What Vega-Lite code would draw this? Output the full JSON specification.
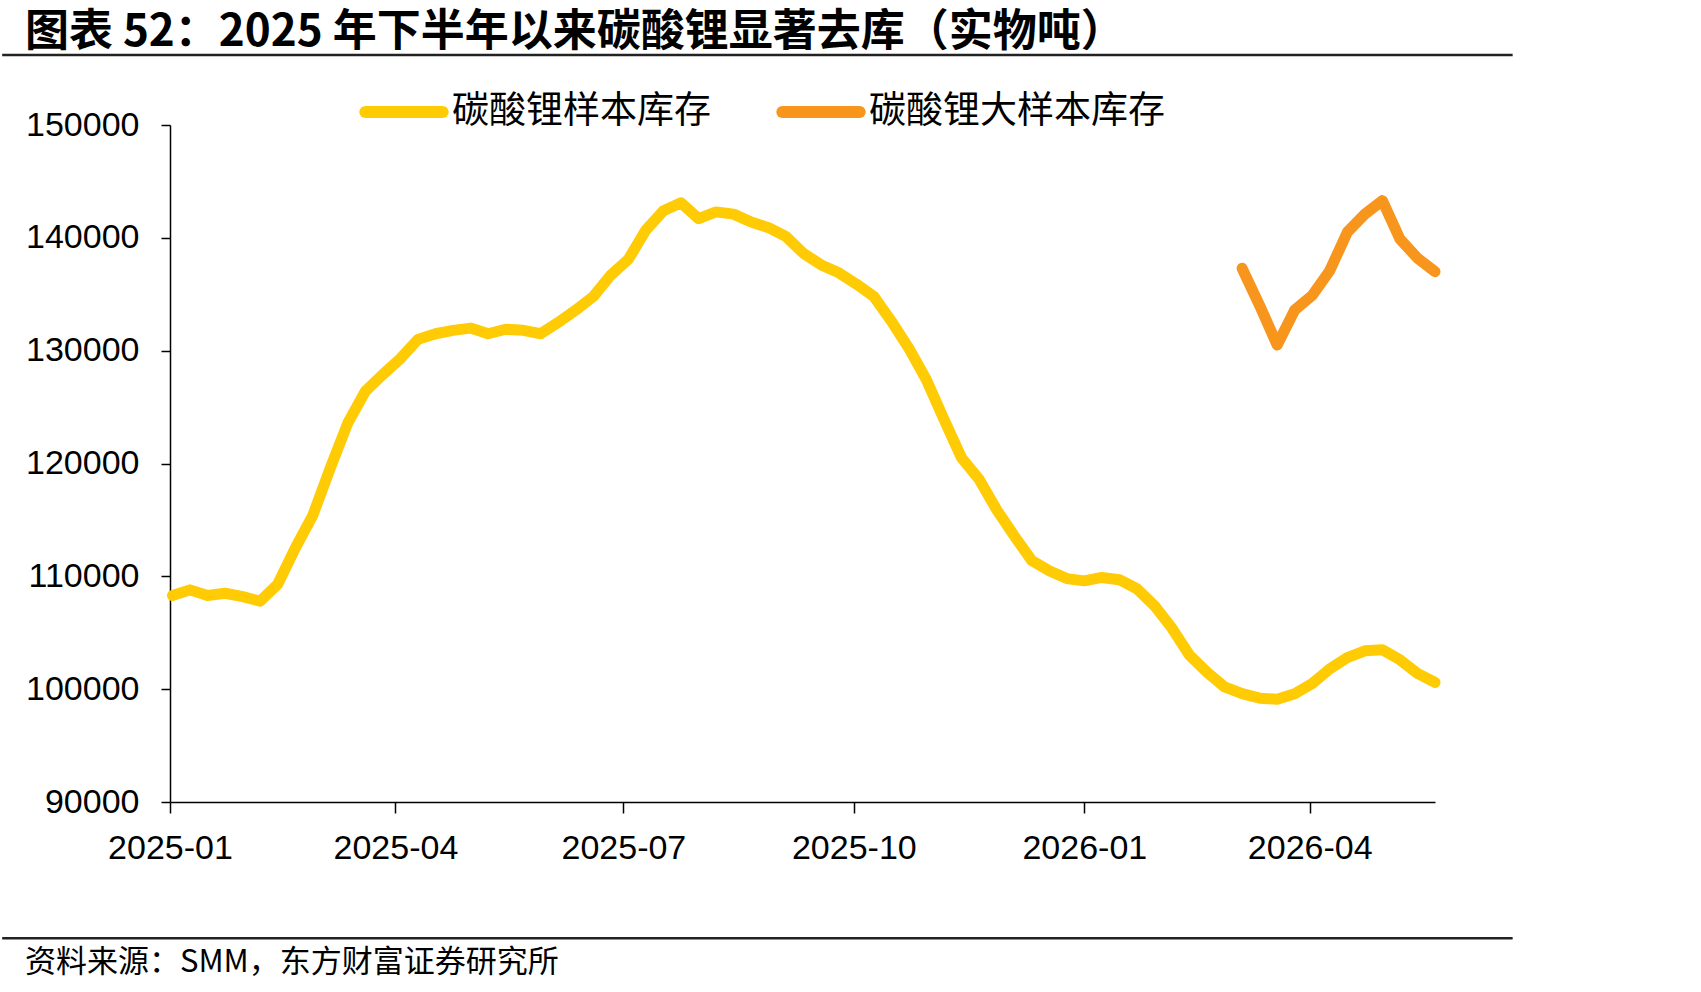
{
  "$schema": "https://vega.github.io/schema/vega-lite/v6.json",
  "padding": {"left": 0, "top": 10, "right": 0, "bottom": 10},
  "autosize": {"type": "pad"},
  "background": "white",
  "config": {"view": {"stroke": null}, "concat": {"spacing": 0}},
  "title": {
    "text": "图表 52：2025 年下半年以来碳酸锂显著去库（实物吨）",
    "font": "Noto Sans CJK SC",
    "fontSize": 44,
    "fontWeight": "bold",
    "color": "black",
    "anchor": "start",
    "frame": "bounds",
    "dx": 24,
    "offset": -1
  },
  "datasets": {
    "inv": [
      {"date": "2025-01-02", "series": "碳酸锂样本库存", "value": 108300},
      {"date": "2025-01-09", "series": "碳酸锂样本库存", "value": 108800},
      {"date": "2025-01-16", "series": "碳酸锂样本库存", "value": 108300},
      {"date": "2025-01-23", "series": "碳酸锂样本库存", "value": 108500},
      {"date": "2025-01-30", "series": "碳酸锂样本库存", "value": 108200},
      {"date": "2025-02-06", "series": "碳酸锂样本库存", "value": 107800},
      {"date": "2025-02-13", "series": "碳酸锂样本库存", "value": 109300},
      {"date": "2025-02-20", "series": "碳酸锂样本库存", "value": 112500},
      {"date": "2025-02-27", "series": "碳酸锂样本库存", "value": 115400},
      {"date": "2025-03-06", "series": "碳酸锂样本库存", "value": 119600},
      {"date": "2025-03-13", "series": "碳酸锂样本库存", "value": 123600},
      {"date": "2025-03-20", "series": "碳酸锂样本库存", "value": 126400},
      {"date": "2025-03-27", "series": "碳酸锂样本库存", "value": 127900},
      {"date": "2025-04-03", "series": "碳酸锂样本库存", "value": 129300},
      {"date": "2025-04-10", "series": "碳酸锂样本库存", "value": 131000},
      {"date": "2025-04-17", "series": "碳酸锂样本库存", "value": 131500},
      {"date": "2025-04-24", "series": "碳酸锂样本库存", "value": 131800},
      {"date": "2025-05-01", "series": "碳酸锂样本库存", "value": 132000},
      {"date": "2025-05-08", "series": "碳酸锂样本库存", "value": 131500},
      {"date": "2025-05-15", "series": "碳酸锂样本库存", "value": 131900},
      {"date": "2025-05-22", "series": "碳酸锂样本库存", "value": 131800},
      {"date": "2025-05-29", "series": "碳酸锂样本库存", "value": 131500},
      {"date": "2025-06-05", "series": "碳酸锂样本库存", "value": 132500},
      {"date": "2025-06-12", "series": "碳酸锂样本库存", "value": 133600},
      {"date": "2025-06-19", "series": "碳酸锂样本库存", "value": 134800},
      {"date": "2025-06-26", "series": "碳酸锂样本库存", "value": 136700},
      {"date": "2025-07-03", "series": "碳酸锂样本库存", "value": 138100},
      {"date": "2025-07-10", "series": "碳酸锂样本库存", "value": 140700},
      {"date": "2025-07-17", "series": "碳酸锂样本库存", "value": 142400},
      {"date": "2025-07-24", "series": "碳酸锂样本库存", "value": 143100},
      {"date": "2025-07-31", "series": "碳酸锂样本库存", "value": 141700},
      {"date": "2025-08-07", "series": "碳酸锂样本库存", "value": 142300},
      {"date": "2025-08-14", "series": "碳酸锂样本库存", "value": 142100},
      {"date": "2025-08-21", "series": "碳酸锂样本库存", "value": 141400},
      {"date": "2025-08-28", "series": "碳酸锂样本库存", "value": 140900},
      {"date": "2025-09-04", "series": "碳酸锂样本库存", "value": 140100},
      {"date": "2025-09-11", "series": "碳酸锂样本库存", "value": 138600},
      {"date": "2025-09-18", "series": "碳酸锂样本库存", "value": 137600},
      {"date": "2025-09-25", "series": "碳酸锂样本库存", "value": 136900},
      {"date": "2025-10-02", "series": "碳酸锂样本库存", "value": 135900},
      {"date": "2025-10-09", "series": "碳酸锂样本库存", "value": 134800},
      {"date": "2025-10-16", "series": "碳酸锂样本库存", "value": 132600},
      {"date": "2025-10-23", "series": "碳酸锂样本库存", "value": 130200},
      {"date": "2025-10-30", "series": "碳酸锂样本库存", "value": 127400},
      {"date": "2025-11-06", "series": "碳酸锂样本库存", "value": 123900},
      {"date": "2025-11-13", "series": "碳酸锂样本库存", "value": 120500},
      {"date": "2025-11-20", "series": "碳酸锂样本库存", "value": 118600},
      {"date": "2025-11-27", "series": "碳酸锂样本库存", "value": 115900},
      {"date": "2025-12-04", "series": "碳酸锂样本库存", "value": 113600},
      {"date": "2025-12-11", "series": "碳酸锂样本库存", "value": 111400},
      {"date": "2025-12-18", "series": "碳酸锂样本库存", "value": 110500},
      {"date": "2025-12-25", "series": "碳酸锂样本库存", "value": 109800},
      {"date": "2026-01-01", "series": "碳酸锂样本库存", "value": 109600},
      {"date": "2026-01-08", "series": "碳酸锂样本库存", "value": 109900},
      {"date": "2026-01-15", "series": "碳酸锂样本库存", "value": 109700},
      {"date": "2026-01-22", "series": "碳酸锂样本库存", "value": 108900},
      {"date": "2026-01-29", "series": "碳酸锂样本库存", "value": 107400},
      {"date": "2026-02-05", "series": "碳酸锂样本库存", "value": 105400},
      {"date": "2026-02-12", "series": "碳酸锂样本库存", "value": 103000},
      {"date": "2026-02-19", "series": "碳酸锂样本库存", "value": 101500},
      {"date": "2026-02-26", "series": "碳酸锂样本库存", "value": 100200},
      {"date": "2026-03-05", "series": "碳酸锂样本库存", "value": 99600},
      {"date": "2026-03-12", "series": "碳酸锂样本库存", "value": 99200},
      {"date": "2026-03-19", "series": "碳酸锂样本库存", "value": 99100},
      {"date": "2026-03-26", "series": "碳酸锂样本库存", "value": 99600},
      {"date": "2026-04-02", "series": "碳酸锂样本库存", "value": 100500},
      {"date": "2026-04-09", "series": "碳酸锂样本库存", "value": 101800},
      {"date": "2026-04-16", "series": "碳酸锂样本库存", "value": 102800},
      {"date": "2026-04-23", "series": "碳酸锂样本库存", "value": 103400},
      {"date": "2026-04-30", "series": "碳酸锂样本库存", "value": 103500},
      {"date": "2026-05-07", "series": "碳酸锂样本库存", "value": 102600},
      {"date": "2026-05-14", "series": "碳酸锂样本库存", "value": 101400},
      {"date": "2026-05-21", "series": "碳酸锂样本库存", "value": 100600},
      {"date": "2026-03-05", "series": "碳酸锂大样本库存", "value": 137300},
      {"date": "2026-03-12", "series": "碳酸锂大样本库存", "value": 134000},
      {"date": "2026-03-19", "series": "碳酸锂大样本库存", "value": 130500},
      {"date": "2026-03-26", "series": "碳酸锂大样本库存", "value": 133600},
      {"date": "2026-04-02", "series": "碳酸锂大样本库存", "value": 134900},
      {"date": "2026-04-09", "series": "碳酸锂大样本库存", "value": 137100},
      {"date": "2026-04-16", "series": "碳酸锂大样本库存", "value": 140500},
      {"date": "2026-04-23", "series": "碳酸锂大样本库存", "value": 142100},
      {"date": "2026-04-30", "series": "碳酸锂大样本库存", "value": 143300},
      {"date": "2026-05-07", "series": "碳酸锂大样本库存", "value": 139900},
      {"date": "2026-05-14", "series": "碳酸锂大样本库存", "value": 138200},
      {"date": "2026-05-21", "series": "碳酸锂大样本库存", "value": 137000}
    ]
  },
  "vconcat": [
    {
      "width": 1265,
      "height": 677,
      "title": {
        "text": "资料来源：SMM，东方财富证券研究所",
        "orient": "bottom",
        "anchor": "start",
        "frame": "bounds",
        "dx": 24,
        "offset": 9,
        "font": "Noto Sans CJK SC",
        "fontSize": 31,
        "fontWeight": "normal",
        "color": "black"
      },
      "layer": [
        {
          "data": {"name": "inv"},
          "mark": {"type": "line", "strokeWidth": 11, "strokeCap": "round", "strokeJoin": "round"},
          "encoding": {
            "x": {
              "field": "date",
              "type": "temporal",
              "scale": {
                "type": "utc",
                "domain": [
                  {"year": 2025, "month": 1, "date": 1, "utc": true},
                  {"year": 2026, "month": 5, "date": 21, "utc": true}
                ]
              },
              "axis": {
                "title": null,
                "values": [
                  {"year": 2025, "month": 1, "date": 1, "utc": true},
                  {"year": 2025, "month": 4, "date": 1, "utc": true},
                  {"year": 2025, "month": 7, "date": 1, "utc": true},
                  {"year": 2025, "month": 10, "date": 1, "utc": true},
                  {"year": 2026, "month": 1, "date": 1, "utc": true},
                  {"year": 2026, "month": 4, "date": 1, "utc": true}
                ],
                "format": "%Y-%m",
                "grid": false,
                "labelFont": "Liberation Sans",
                "labelFontSize": 34,
                "labelColor": "black",
                "labelPadding": 18,
                "labelFlush": false,
                "labelOverlap": false,
                "tickSize": 11,
                "tickColor": "black",
                "tickWidth": 1.5,
                "domainColor": "black",
                "domainWidth": 1.5
              }
            },
            "y": {
              "field": "value",
              "type": "quantitative",
              "scale": {"domain": [90000, 150000], "nice": false, "zero": false},
              "axis": {
                "title": null,
                "values": [90000, 100000, 110000, 120000, 130000, 140000, 150000],
                "format": "d",
                "grid": false,
                "labelFont": "Liberation Sans",
                "labelFontSize": 34,
                "labelColor": "black",
                "labelPadding": 22,
                "tickSize": 9,
                "tickColor": "black",
                "tickWidth": 1.5,
                "domainColor": "black",
                "domainWidth": 1.5
              }
            },
            "color": {
              "field": "series",
              "type": "nominal",
              "scale": {
                "domain": ["碳酸锂样本库存", "碳酸锂大样本库存"],
                "range": ["#FFCB05", "#F7951D"]
              },
              "legend": {
                "title": null,
                "orient": "none",
                "direction": "horizontal",
                "legendX": 189,
                "legendY": -58,
                "symbolType": "stroke",
                "symbolSize": 5990,
                "symbolStrokeWidth": 12,
                "labelFont": "Noto Sans CJK SC",
                "labelFontSize": 37,
                "labelColor": "black",
                "labelOffset": 3,
                "labelLimit": 500,
                "columnPadding": 47,
                "encode": {"symbols": {"update": {"strokeCap": {"value": "round"}}}}
              }
            }
          }
        },
        {
          "data": {"values": [{}]},
          "mark": {"type": "rule", "color": "#222222", "strokeWidth": 2.5},
          "encoding": {
            "x": {"datum": {"year": 2024, "month": 10, "date": 26, "utc": true}, "type": "temporal"},
            "x2": {"datum": {"year": 2026, "month": 6, "date": 21, "utc": true}},
            "y": {"datum": 156200, "type": "quantitative"}
          }
        },
        {
          "data": {"values": [{}]},
          "mark": {"type": "rule", "color": "#222222", "strokeWidth": 2.5},
          "encoding": {
            "x": {"datum": {"year": 2024, "month": 10, "date": 26, "utc": true}, "type": "temporal"},
            "x2": {"datum": {"year": 2026, "month": 6, "date": 21, "utc": true}},
            "y": {"datum": 77930, "type": "quantitative"}
          }
        }
      ]
    }
  ]
}
